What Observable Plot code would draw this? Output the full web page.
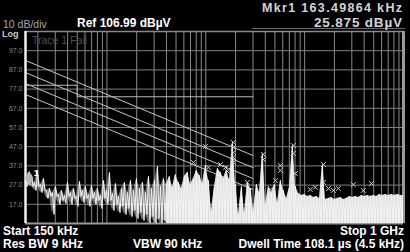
<!DOCTYPE html>
<html><head><meta charset="utf-8">
<script src="https://cdn.jsdelivr.net/npm/d3@7"></script>
<script src="https://cdn.jsdelivr.net/npm/@observablehq/plot@0.6"></script>
<style>
html,body{margin:0;padding:0;background:#000;}
#wrap{position:relative;width:410px;height:252px;background:#000;overflow:hidden;}
#wrap svg{position:absolute;left:0;top:0;}
</style></head><body><div id="wrap"></div>
<script>
// ---- axis definition ----
const fStart = 0.15, fStop = 1000;            // MHz (150 kHz .. 1 GHz)
const refLevel = 106.99, bottomLevel = 6.99;  // dBµV
const yTicks = [96.99, 86.99, 76.99, 66.99, 56.99, 46.99, 36.99, 26.99, 16.99];

// ---- trace: per display bucket max (hi) and min (lo), dBµV ----
const traceHi = [30.4,33.6,32.0,28.4,34.6,27.3,30.4,24.2,25.2,23.1,26.3,22.1,24.2,21.6,28.4,23.1,25.2,21.1,28.9,24.2,
26.3,22.1,26.8,23.1,25.2,21.6,29.4,24.2,33.6,22.6,27.8,21.1,25.2,28.4,23.1,29.4,24.2,30.4,25.2,28.4,
23.1,31.5,25.2,29.4,36.7,26.3,30.4,27.3,31.5,25.8,32.5,28.4,25.2,31.5,33.6,27.3,30.4,34.6,32.0,27.8,
37.2,29.4,13.8,26.3,35.6,33.6,30.4,34.6,29.4,49.2,27.3,11.7,26.3,12.7,28.4,25.2,13.8,27.3,23.1,43.5,
16.9,26.3,23.1,27.3,17.9,29.4,24.2,20.0,25.8,47.6,26.3,22.6,21.6,22.1,21.1,21.6,20.5,21.1,20.0,37.7,
19.5,20.0,20.5,19.5,20.0,20.5,19.5,20.0,21.1,20.5,21.1,20.5,21.6,21.1,21.6,21.1,21.6,21.1,22.1,21.6,
22.1,21.6,22.1,21.6,22.1,21.6,21.6];
const traceLo = [26.3,27.3,26.3,24.2,26.3,23.1,24.2,20.0,21.1,11.7,21.1,16.9,19.0,17.4,21.1,16.9,20.0,15.9,21.1,17.9,
20.0,15.9,20.0,16.9,19.0,14.8,20.0,16.9,19.0,13.8,16.9,12.7,15.9,11.7,14.8,10.6,13.8,9.6,12.7,8.6,
11.7,7.0,10.6,7.0,9.6,7.0,8.6,7.0,7.0,7.0,7.0,7.0,7.0,7.0,7.0,7.0,7.0,7.0,7.0,7.0,
7.0,7.0,7.0,7.0,7.0,7.0,7.0,7.0,7.0,7.0,7.0,7.0,7.0,7.0,7.0,7.0,7.0,7.0,7.0,7.0,
7.0,7.0,7.0,7.0,7.0,7.0,7.0,7.0,7.0,7.0,7.0,7.0,7.0,7.0,7.0,7.0,7.0,7.0,7.0,7.0,
7.0,7.0,7.0,7.0,7.0,7.0,7.0,7.0,7.0,7.0,7.0,7.0,7.0,7.0,7.0,7.0,7.0,7.0,7.0,7.0,
7.0,7.0,7.0,7.0,7.0,7.0,7.0];
const solidFrom = 47; // from this display bucket on, the trace fills down to the bottom

// ---- limit lines ----
const limitF = [0.15, 30];
const limit1 = [91.9, 42.4];
const limit2 = [85.6, 36.1];
const limit3 = [79.9, 30.4];
const limit4 = [74.2, 24.7];
const qpF = [0.15, 0.5, 0.5, 30];
const qpV = [79, 79, 73, 73];

// ---- peak markers ----
const peakF = [9.9,19.0,19.0,19.0,19.0,19.0,38.2,38.2,76.9,76.9,7.5,10.6,14.1,15.8,16.5,56.8,56.8,80.6,50.6,26.3,
75.2,45.0,155,155,114,128,174,195,219,311,392,473];
const peakV = [47.1,49.2,46.6,44.0,41.4,38.8,43.0,40.3,47.6,43.5,38.8,36.2,37.7,36.2,34.1,37.2,34.6,33.0,29.4,28.4,
28.4,24.7,37.7,28.4,24.7,25.8,25.2,24.2,25.2,27.3,24.2,27.8];

// ---- marker 1 ----
const mkrF = 0.16349864, mkrV = 25.875;

// build tables
const N = traceHi.length;
const sweepF = i => fStart * Math.pow(fStop / fStart, i / (N - 1));
const cols = traceHi.map((v, i) => ({f: sweepF(i), hi: v, lo: traceLo[i]}));
const zig = [];
cols.forEach((c, i) => {
  zig.push({f: c.f, v: c.hi});
  if (i < N - 1) zig.push({f: sweepF(i + 0.5), v: c.lo});
});
const lineTable = (vals, id) => limitF.map((f, i) => ({f, v: vals[i], id}));
const diag = [...lineTable(limit1, 1), ...lineTable(limit2, 2), ...lineTable(limit3, 3), ...lineTable(limit4, 4)];
const qp = qpF.map((f, i) => ({f, v: qpV[i]}));
const peaks = peakF.map((f, i) => ({f, v: peakV[i]}));
const xTicks = d3.scaleLog().domain([fStart, fStop]).ticks().filter(t => t > fStart && t < fStop);

const chart = Plot.plot({
  width: 410, height: 252,
  marginLeft: 25, marginRight: 7, marginTop: 31, marginBottom: 29,
  style: {background: "transparent", color: "#8a8a8a", fontFamily: "'Liberation Sans', Arial, sans-serif"},
  x: {type: "log", domain: [fStart, fStop], axis: null},
  y: {domain: [bottomLevel, refLevel], axis: null},
  marks: [
    Plot.gridX(xTicks, {stroke: "#8a8a8a", strokeOpacity: 1}),
    Plot.gridY(yTicks, {stroke: "#808080", strokeOpacity: 1}),
    Plot.ruleY([refLevel], {stroke: "#8a8a8a", strokeWidth: 1.5}),
    Plot.ruleY([bottomLevel], {stroke: "#9a9a9a", strokeWidth: 2}),
    Plot.ruleX([fStop], {stroke: "#9a9a9a", strokeWidth: 3}),
    Plot.axisY(yTicks, {tickFormat: d => d.toFixed(1), tickSize: 0, tickPadding: 3, fontSize: 7, fill: "#8a8a8a", label: null}),
    Plot.line(diag, {x: "f", y: "v", z: "id", stroke: "#c8c8c8", strokeWidth: 1}),
    Plot.line(qp, {x: "f", y: "v", stroke: "#b8b8b8", strokeWidth: 1}),
    Plot.areaY(cols, {x: "f", y1: "lo", y2: "hi", fill: "#f2f2f2", fillOpacity: 0.45, curve: "linear", clip: true}),
    Plot.areaY(cols.slice(solidFrom), {x: "f", y1: "lo", y2: "hi", fill: "#f0f0f0", fillOpacity: 0.85, curve: "linear", clip: true}),
    Plot.line(zig, {x: "f", y: "v", stroke: "#f4f4f4", strokeWidth: 1, clip: true}),
    Plot.dot(peaks, {x: "f", y: "v", symbol: "times", r: 2.3, stroke: "#d0d0d0", strokeWidth: 1}),
    Plot.ruleX([fStart], {stroke: "#f0f0f0", strokeWidth: 2.5}),
    Plot.dot([{f: mkrF, v: mkrV}], {x: "f", y: "v", symbol: "diamond", r: 4.5, fill: "#b8b8b8", dy: -9}),
    Plot.text([{f: mkrF, v: mkrV}], {x: "f", y: "v", text: () => "1", dx: 7, dy: -14, fill: "#fff", fontSize: 9, fontWeight: "bold"})
  ]
});
const wrap = document.getElementById("wrap");
wrap.appendChild(chart);

// text overlay
const ns = "http://www.w3.org/2000/svg";
const ov = document.createElementNS(ns, "svg");
ov.setAttribute("width", 410); ov.setAttribute("height", 252);
ov.style.fontFamily = "'Liberation Sans', Arial, sans-serif";
const frameTop = document.createElementNS(ns, "line");
frameTop.setAttribute("x1", 252); frameTop.setAttribute("x2", 405);
frameTop.setAttribute("y1", 28.5); frameTop.setAttribute("y2", 28.5);
frameTop.setAttribute("stroke", "#6a6a6a"); frameTop.setAttribute("stroke-width", 1);
ov.appendChild(frameTop);
const labels = [
  ["10 dB/div", 3, 27.5, "start", 10.5, "normal", "#a8a8a8", 0],
  ["Ref 106.99 dB\u00b5V", 77, 27, "start", 12, "bold", "#ffffff", 0],
  ["Log", 2, 37, "start", 9, "bold", "#c8c8c8", 0],
  ["Trace 1 Fail", 32, 44, "start", 10.5, "normal", "#4e4e4e", 0],
  ["Mkr1  163.49864 kHz", 402, 11.5, "end", 12.5, "bold", "#d4d4d4", 140],
  ["25.875 dB\u00b5V", 402, 26.5, "end", 13.5, "bold", "#d4d4d4", 88],
  ["Start 150 kHz", 3, 234.5, "start", 12, "bold", "#ffffff", 0],
  ["Stop 1 GHz", 404, 234.5, "end", 12, "bold", "#ffffff", 0],
  ["Res BW 9 kHz", 3, 248.3, "start", 12, "bold", "#ffffff", 0],
  ["VBW 90 kHz", 133, 248.3, "start", 12, "bold", "#ffffff", 0],
  ["Dwell Time 108.1 \u00b5s (4.5 kHz)", 404, 248.3, "end", 12, "bold", "#ffffff", 0]
];
labels.forEach(([t, x, y, a, s, w, c, len]) => {
  const e = document.createElementNS(ns, "text");
  e.setAttribute("x", x); e.setAttribute("y", y);
  e.setAttribute("text-anchor", a); e.setAttribute("font-size", s);
  e.setAttribute("font-weight", w); e.setAttribute("fill", c);
  if (len) { e.setAttribute("textLength", len); e.setAttribute("lengthAdjust", "spacing"); }
  e.textContent = t; ov.appendChild(e);
});
wrap.appendChild(ov);
</script></body></html>
